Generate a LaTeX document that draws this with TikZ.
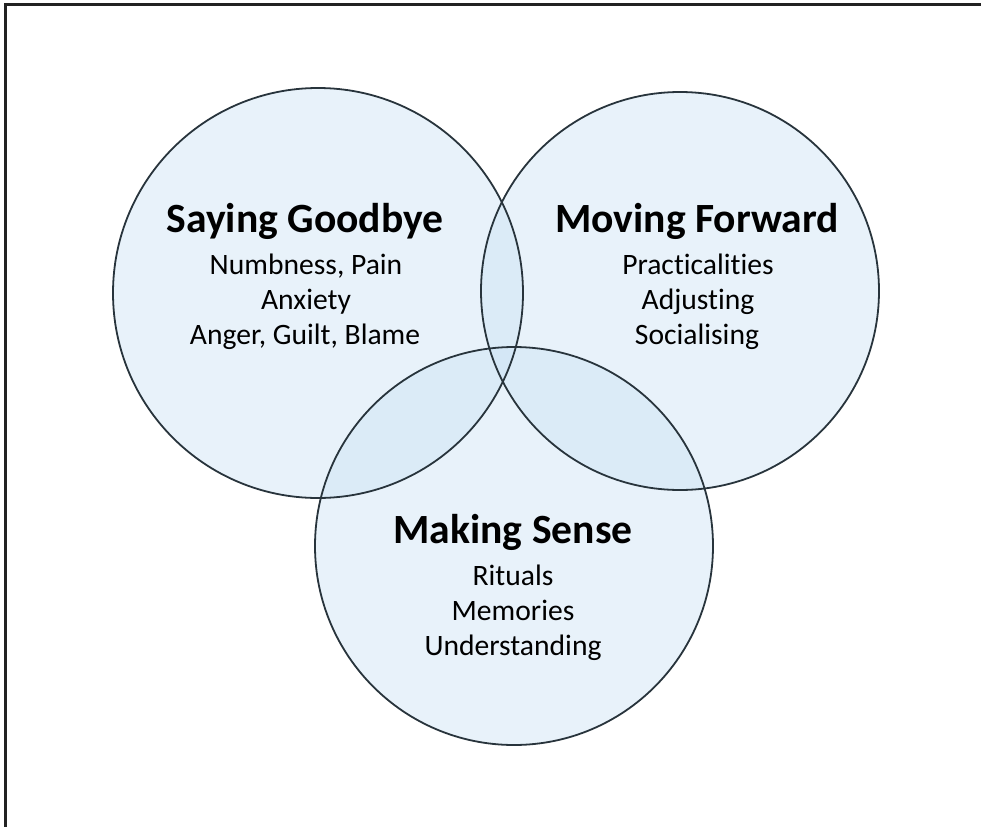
\documentclass[tikz,border=0pt]{standalone}
\usepackage{fontspec}
\setmainfont{Carlito}[RawFeature={-liga;-dlig}]
\definecolor{circfill}{RGB}{205,228,245}
\definecolor{circline}{RGB}{40,52,60}
\definecolor{framecol}{RGB}{34,34,34}
\begin{document}
\begin{tikzpicture}[x=1bp,y=-1bp,
  venn/.style={circle, inner sep=0pt, fill=circfill, fill opacity=0.45},
  vennline/.style={draw=circline, line width=1.8bp},
  ttl/.style={anchor=base, font=\fontsize{41.6bp}{48bp}\selectfont\bfseries, inner sep=0pt, text=black},
  sub/.style={anchor=base, font=\fontsize{29.6bp}{34bp}\selectfont, inner sep=0pt, text=black}]
\useasboundingbox (0,0) rectangle (981,827);
\fill[white] (0,0) rectangle (981,827);
% frame
\coordinate (fb) at (5.5,827);
\coordinate (fc) at (5.5,4.5);
\coordinate (fr) at (981,4.5);
\draw[framecol, line width=2.5bp] (fb) -- (fc) -- (fr);
% circles (fills)
\node[venn, minimum size=410bp] (sg) at (318,293) {};
\node[venn, minimum size=398bp] (mf) at (680,291) {};
\node[venn, minimum size=398bp] (ms) at (514,546) {};
% circle outlines
\draw[vennline] (sg.center) circle[radius=205];
\draw[vennline] (mf.center) circle[radius=199];
\draw[vennline] (ms.center) circle[radius=199];
% texts
\node[ttl] (t1) at (305,232) {Saying Goodbye};
\node[sub] (t1a) at (306,274) {Numbness, Pain};
\node[sub] (t1b) at (306,309) {Anxiety};
\node[sub] (t1c) at (305,344) {Anger, Guilt, Blame};
\node[ttl] (t2) at (697,232) {Moving Forward};
\node[sub] (t2a) at (698,274) {Practicalities};
\node[sub] (t2b) at (698,309) {Adjusting};
\node[sub] (t2c) at (697,344) {Socialising};
\node[ttl] (t3) at (513,543) {Making Sense};
\node[sub] (t3a) at (513,585) {Rituals};
\node[sub] (t3b) at (513,620) {Memories};
\node[sub] (t3c) at (513,655) {Understanding};
\end{tikzpicture}
\end{document}
